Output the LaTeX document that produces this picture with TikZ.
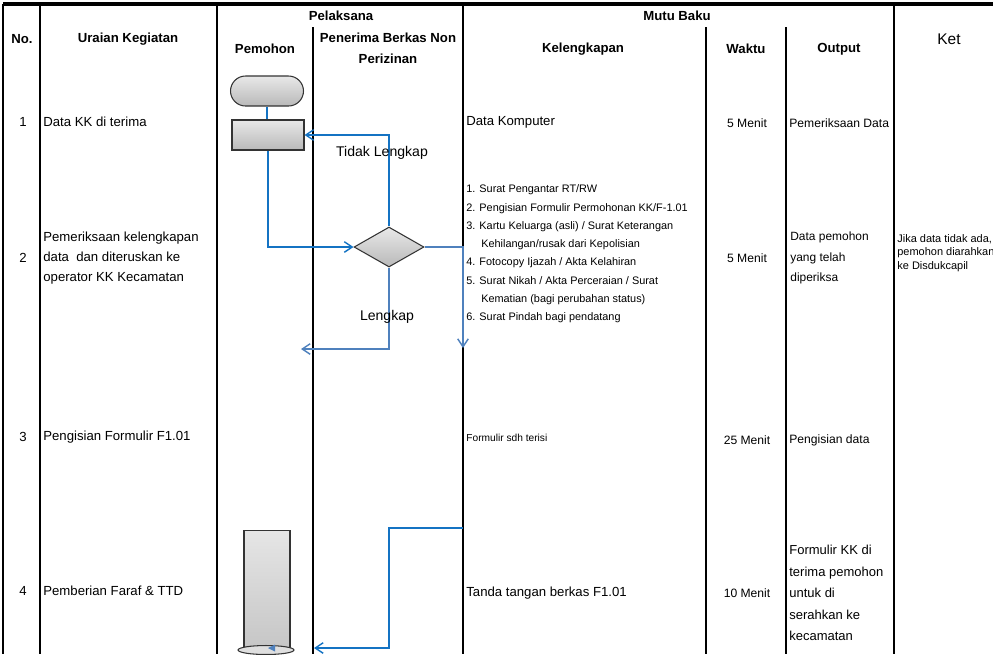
\documentclass[tikz,border=0pt]{standalone}
\usepackage{fontspec}
\setmainfont{Liberation Sans}
\usetikzlibrary{arrows.meta,shapes.geometric}
\definecolor{birualur}{RGB}{20,115,195}
\definecolor{birupudar}{RGB}{79,129,189}

\begin{document}
\begin{tikzpicture}[x=0.02cm,y=-0.02cm,
        garis/.style={black,line width=1.2pt},
        judul/.style={font=\bfseries\fontsize{7.5}{11.9}\selectfont,align=center},
        isi/.style={font=\fontsize{7.5}{11.3}\selectfont,anchor=west,align=left},
        kecil/.style={font=\fontsize{6.9}{11.6}\selectfont},
        alur/.style={draw=birualur,line width=0.8pt},
        alurpudar/.style={draw=birupudar,line width=0.8pt},
        panah/.style={-{Straight Barb[length=4.5pt,width=6pt]}},
        simbol/.style={draw=black!80,line width=0.6pt,top color=gray!18,bottom color=gray!55}]
        \tikzstyle{every node}+=[inner sep=0pt]
        \useasboundingbox (0,0) rectangle (993,654);
        \draw [black,line width=1.8pt] (3,4) -- (993,4);
        \foreach \gx in {3,40,217,463,894}
            \draw [garis] (\gx,4) -- (\gx,654);
        \foreach \gx in {313,706,786}
            \draw [garis] (\gx,27) -- (\gx,654);
        \node [judul] (no) at (22,39) {No.};
        \node [judul] (uraian) at (128,39) {Uraian Kegiatan};
        \node [judul] (pelaksana) at (341,16) {Pelaksana};
        \node [judul] (pemohon) at (265,49) {Pemohon};
        \node [judul] (penerima) at (388,48) {Penerima Berkas Non\\Perizinan};
        \node [judul] (mutu) at (677,16) {Mutu Baku};
        \node [judul] (kelengkapan) at (583,49) {Kelengkapan};
        \node [judul] (waktu) at (746,49) {Waktu};
        \node [judul] (output) at (839,49) {Output};
        \node [font=\fontsize{8.8}{10}\selectfont] (ket) at (949,39) {Ket};
        \foreach \n/\y in {1/122,2/258,3/437,4/591}
            \node [font=\fontsize{7.5}{9}\selectfont] (no\n) at (23,\y) {\n};
        \node [simbol,rounded corners=0.3cm,minimum width=1.46cm,minimum height=0.6cm] (mulai) at (267,91) {};
        \node [simbol,minimum width=1.44cm,minimum height=0.6cm] (terima) at (268,135) {};
        \node [simbol,diamond,aspect=1.75,minimum width=1.4cm,minimum height=0.8cm] (cek) at (389,247) {};
        \node [simbol,top color=gray!20,bottom color=gray!45,minimum width=0.92cm,minimum height=2.4cm] (ttd) at (267,590) {};
        \node [draw=black!80,line width=0.6pt,fill=gray!25,ellipse,minimum width=1.12cm,minimum height=0.18cm] (alas) at (266,650) {};
        \fill [birupudar] (268,648) -- (275,644.5) -- (275,651.5) -- cycle;
        \draw [alur] (mulai.south) -- (mulai.south |- terima.north);
        \draw [alur,panah] (terima.south) |- (cek.west);
        \draw [alur,panah] (cek.north) |- (terima.east);
        \node [font=\fontsize{8}{10}\selectfont] (tidak) at (382,153) {Tidak Lengkap};
        \coordinate (lkp) at (301,349);
        \draw [alurpudar,panah] (cek.south) |- (lkp);
        \node [font=\fontsize{8}{10}\selectfont] (lengkap) at (387,317) {Lengkap};
        \coordinate (kpl) at (463,348);
        \draw [alurpudar,panah] (cek.east) -| (kpl);
        \coordinate (ttd1) at (463,528);
        \coordinate (ttd2) at (314,648);
        \draw [alur,panah] (ttd1) -- (ttd1 -| cek) |- (ttd2);
        \node [isi] (uraian1) at (43,122) {Data KK di terima};
        \node [isi] (lengkap1) at (466,122) {Data Komputer};
        \node [kecil] (waktu1) at (747,123) {5 Menit};
        \node [kecil,anchor=west] (output1) at (789,123) {Pemeriksaan Data};
        \node [isi] (uraian2) at (43,258) {Pemeriksaan kelengkapan\\data\ \ dan diteruskan ke\\operator KK Kecamatan};
        \node [isi,font=\fontsize{6.2}{10.4}\selectfont] (lengkap2) at (466,254) {1. Surat Pengantar RT/RW\\2. Pengisian Formulir Permohonan KK/F-1.01\\3. Kartu Keluarga (asli) / Surat Keterangan\\\hspace*{8.5pt}Kehilangan/rusak dari Kepolisian\\4. Fotocopy Ijazah / Akta Kelahiran\\5. Surat Nikah / Akta Perceraian / Surat\\\hspace*{8.5pt}Kematian (bagi perubahan status)\\6. Surat Pindah bagi pendatang};
        \node [kecil] (waktu2) at (747,258) {5 Menit};
        \node [isi,font=\fontsize{6.8}{11.6}\selectfont] (output2) at (790,258) {Data pemohon\\yang telah\\diperiksa};
        \node [isi,font=\fontsize{6.25}{7.65}\selectfont] (ket2) at (897,253) {Jika data tidak ada,\\pemohon diarahkan\\ke Disdukcapil};
        \node [isi] (uraian3) at (43,437) {Pengisian Formulir F1.01};
        \node [isi,font=\fontsize{5.8}{7}\selectfont] (lengkap3) at (466,438) {Formulir sdh terisi};
        \node [kecil] (waktu3) at (747,440) {25 Menit};
        \node [kecil,anchor=west] (output3) at (789,440) {Pengisian data};
        \node [isi] (uraian4) at (43,591) {Pemberian Faraf \& TTD};
        \node [isi] (lengkap4) at (466,593) {Tanda tangan berkas F1.01};
        \node [kecil] (waktu4) at (747,593) {10 Menit};
        \node [isi,font=\fontsize{7.4}{12.2}\selectfont] (output4) at (789,593) {Formulir KK di\\terima pemohon\\untuk di\\serahkan ke\\kecamatan};
        \end{tikzpicture}
\end{document}
